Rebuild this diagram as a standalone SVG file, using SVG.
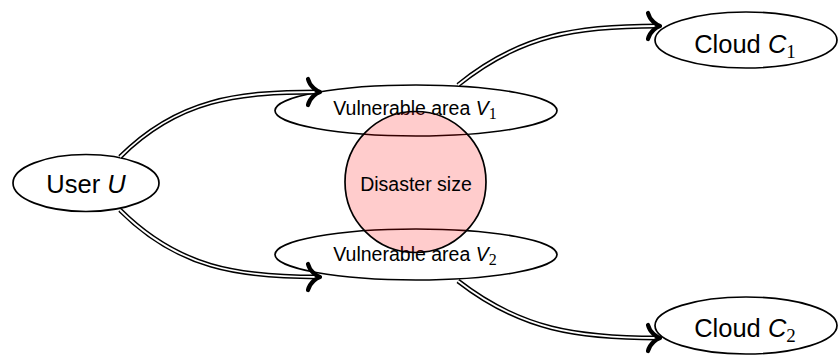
<svg xmlns="http://www.w3.org/2000/svg" width="839" height="356" viewBox="0 0 839 356">
<style>
.node{fill:#fff;stroke:#000;stroke-width:1.7}
.big{font-family:"Liberation Sans",Arial,sans-serif;font-size:25.5px;fill:#000;text-anchor:middle}
.sm{font-family:"Liberation Sans",Arial,sans-serif;font-size:19.5px;fill:#000;text-anchor:middle}
.it{font-style:italic}
.sub{font-family:"Liberation Serif","Times New Roman",serif;font-style:normal}
.outer{fill:none;stroke:#000;stroke-width:4.8}
.inner{fill:none;stroke:#fff;stroke-width:1.8}
.head{fill:none;stroke:#000;stroke-width:4.2;stroke-linecap:round;stroke-linejoin:round}
.disaster{fill:#ff0000;fill-opacity:0.2;stroke:#000;stroke-width:1.7}
</style>
<defs>
<path id="ah" class="head" d="M-12,-13 C-10,-5 -3,-1 0,0 C-3,1 -10,5 -12,13"/>
</defs>
<g id="user">
<ellipse class="node" cx="86" cy="183" rx="73" ry="28.5"/>
<text class="big" x="86" y="193">User <tspan class="it">U</tspan></text>
</g>
<g id="v1">
<ellipse class="node" cx="416" cy="110.5" rx="141" ry="25.5"/>
<text class="sm" x="415" y="115">Vulnerable area <tspan class="it">V</tspan><tspan class="sub" font-size="16" dy="4">1</tspan></text>
</g>
<g id="v2">
<ellipse class="node" cx="416" cy="254.5" rx="141" ry="25.5"/>
<text class="sm" x="415" y="261">Vulnerable area <tspan class="it">V</tspan><tspan class="sub" font-size="16" dy="4">2</tspan></text>
</g>
<g id="c1">
<ellipse class="node" cx="746" cy="40" rx="91" ry="28"/>
<text class="big" x="745" y="53">Cloud <tspan class="it">C</tspan><tspan class="sub" font-size="19" dy="5">1</tspan></text>
</g>
<g id="c2">
<ellipse class="node" cx="746" cy="325.5" rx="91" ry="28.5"/>
<text class="big" x="745" y="337">Cloud <tspan class="it">C</tspan><tspan class="sub" font-size="19" dy="5">2</tspan></text>
</g>
<g id="connectors">
<path class="outer" d="M120,157 C178,99 238,92 318,92"/>
<path class="inner" d="M120,157 C178,99 238,92 318,92"/>
<use href="#ah" transform="translate(320,92)"/>
<path class="outer" d="M120,210 C178,268 238,277 318,277"/>
<path class="inner" d="M120,210 C178,268 238,277 318,277"/>
<use href="#ah" transform="translate(320,277)"/>
<path class="outer" d="M458,85 C521,34 578,26 658,26"/>
<path class="inner" d="M458,85 C521,34 578,26 658,26"/>
<use href="#ah" transform="translate(660,26)"/>
<path class="outer" d="M458,281 C521,330 578,338 658,338"/>
<path class="inner" d="M458,281 C521,330 578,338 658,338"/>
<use href="#ah" transform="translate(660,338)"/>
</g>
<g id="disaster">
<circle class="disaster" cx="415.5" cy="182" r="70.5"/>
<text class="sm" x="416" y="191">Disaster size</text>
</g>
</svg>
